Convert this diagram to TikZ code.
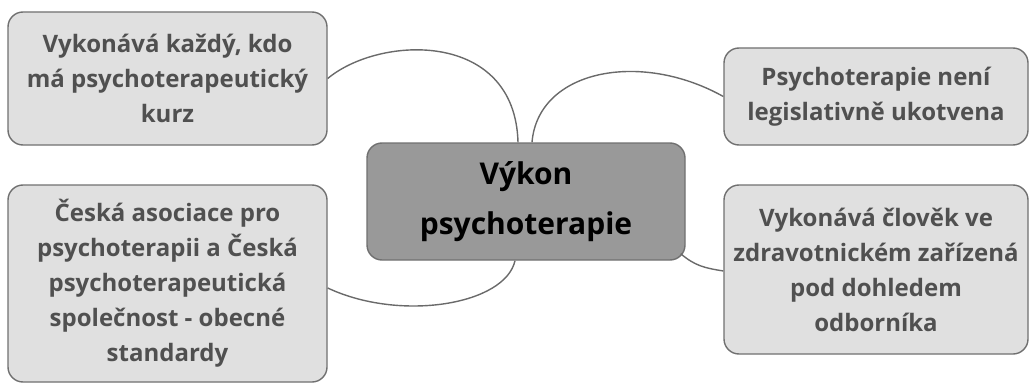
\documentclass[tikz,border=0pt]{standalone}
\usepackage{fontspec}
\setmainfont{Open Sans}
\definecolor{boxfill}{HTML}{E0E0E0}
\definecolor{boxline}{HTML}{707070}
\definecolor{boxtext}{HTML}{505050}
\definecolor{midfill}{HTML}{999999}
\definecolor{conn}{HTML}{6A6A6A}
\begin{document}
\begin{tikzpicture}[x=1pt,y=-1pt,
  leaf/.style={draw=boxline,line width=1.4pt,fill=boxfill,rounded corners=15pt,
    text=boxtext,align=center,inner sep=0pt,
    font=\fontsize{24}{35}\selectfont\bfseries},
  hub/.style={draw=boxline,line width=1.4pt,fill=midfill,rounded corners=15pt,
    text=black,align=center,inner sep=0pt,
    font=\fontsize{30}{50}\selectfont\bfseries},
  link/.style={draw=conn,line width=1.4pt}]
\useasboundingbox (0,0) rectangle (1030,385);
\node[hub,minimum width=318pt,minimum height=117pt] (C) at (526,201.5) {Výkon\\psychoterapie};
\node[leaf,minimum width=319pt,minimum height=133pt] (TL) at (167.5,78.5) {Vykonává každý, kdo\\má psychoterapeutický\\kurz};
\node[leaf,minimum width=319pt,minimum height=197pt] (BL) at (167.5,283.5) {Česká asociace pro\\psychoterapii a Česká\\psychoterapeutická\\společnost - obecné\\standardy};
\node[leaf,minimum width=304pt,minimum height=97pt] (TR) at (876,96.5) {Psychoterapie není\\legislativně ukotvena};
\node[leaf,minimum width=304pt,minimum height=169pt] (BR) at (876,269.5) {Vykonává člověk ve\\zdravotnickém zařízená\\pod dohledem\\odborníka};
\draw[link] (TL.east) .. controls (380,35) and (515,30) .. ([xshift=-8pt]C.north);
\draw[link] ([xshift=6pt]C.north) .. controls (538,70) and (640,50) .. (TR.west);
\draw[link] ([xshift=-11pt]C.south) .. controls (505,305) and (400,322) .. ([yshift=-4.5pt]BL.east);
\draw[link] ([xshift=-5pt,yshift=7pt]C.south east) .. controls (695,266) and (705,268) .. ([yshift=-1.5pt]BR.west);
\end{tikzpicture}
\end{document}
